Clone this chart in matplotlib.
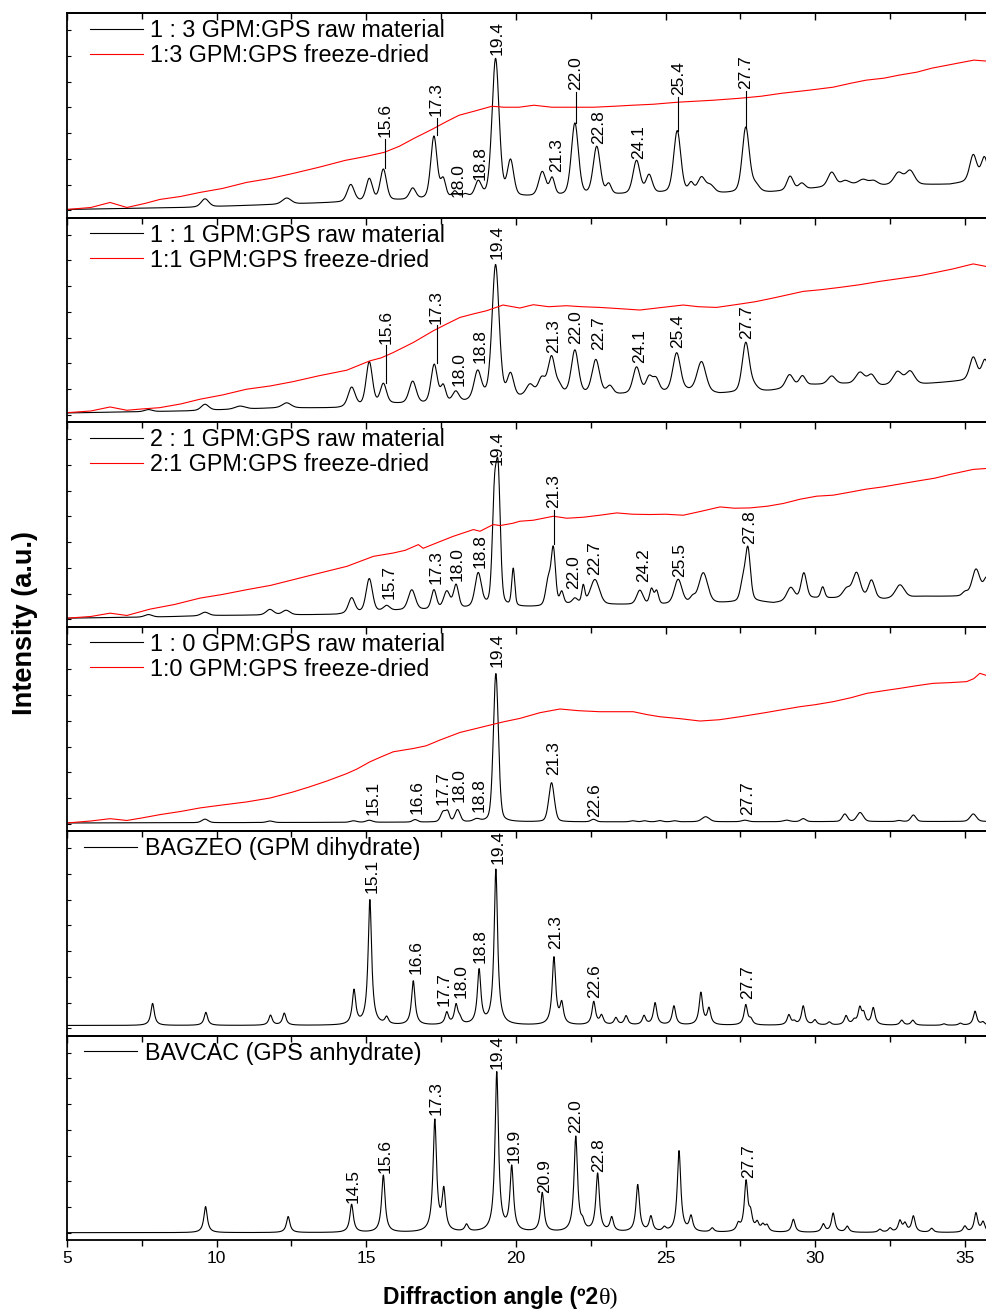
import numpy as np
import matplotlib.pyplot as plt
from matplotlib.ticker import MultipleLocator

plt.rcParams['font.family'] = 'Liberation Sans'

# ---- data (2theta in degrees, intensity in arbitrary units) ----
# peaks: (position, height above baseline, fwhm)
raw13_base = [(5, 8), (9, 10), (12, 13), (14, 15), (16, 17), (18, 19), (20, 20), (23, 22), (25, 24),
              (27, 24), (28.5, 25), (29.8, 28.5), (31.2, 33), (32.3, 32), (34.5, 33), (35, 35), (35.74, 38)]
raw13_peaks = [(9.61, 8, 0.3), (12.34, 6, 0.35), (14.48, 17, 0.28), (15.1, 22, 0.25), (15.57, 31, 0.25),
               (16.55, 11, 0.25), (17.26, 62, 0.25), (17.57, 18, 0.2), (17.96, 6, 0.2), (18.3, 3, 0.25),
               (18.74, 15, 0.25), (19.32, 138, 0.28), (19.82, 35, 0.25), (20.88, 24, 0.28), (21.21, 17, 0.2),
               (21.97, 72, 0.28), (22.7, 48, 0.28), (23.1, 10, 0.2), (24.03, 33, 0.28), (24.45, 18, 0.25),
               (25.39, 62, 0.28), (25.85, 9, 0.2), (26.2, 15, 0.3), (26.5, 7, 0.3), (27.68, 65, 0.28),
               (28.0, 7, 0.3), (29.16, 14, 0.25), (29.55, 6, 0.25), (30.55, 14, 0.3), (31.0, 4, 0.3),
               (31.6, 5, 0.35), (31.95, 4, 0.3), (32.78, 12, 0.35), (33.17, 14, 0.35), (35.28, 26, 0.28),
               (35.65, 22, 0.25)]
fd13 = [(5, 8), (5.8, 10), (6.44, 15), (7, 10), (7.6, 14), (8.1, 18), (8.8, 21), (9.44, 25), (10.2, 29),
        (11, 35), (11.8, 39), (12.56, 44), (13.4, 50), (14.3, 57), (15, 61), (15.6, 65), (16.1, 71),
        (16.6, 79), (17.2, 88), (17.7, 96), (18.1, 102), (18.6, 106), (19.2, 111), (19.6, 110), (20.1, 110),
        (20.6, 112), (21.2, 110), (21.9, 110), (22.6, 110), (23.3, 111), (23.9, 112), (24.6, 113),
        (25.4, 115), (26.0, 116), (26.6, 117), (27.5, 119), (28.2, 121), (28.9, 124), (29.8, 127),
        (30.6, 130), (31.2, 134), (31.7, 137), (32.3, 139), (32.8, 142), (33.4, 145), (33.9, 149),
        (34.6, 153), (35.3, 157), (35.74, 156)]

raw11_base = [(5, 9), (7, 10), (9, 11), (11, 13), (12, 14), (14, 14), (15.85, 18), (16.9, 18), (18.3, 20),
              (19.0, 24), (20.1, 24), (21.55, 28), (23.3, 27), (24.8, 29), (25.7, 31), (26.8, 28), (28.5, 31),
              (29.9, 37), (31.0, 38), (32.2, 36), (33.7, 38), (34.9, 41), (35.74, 44)]
raw11_peaks = [(7.72, 2, 0.3), (9.61, 6, 0.3), (10.78, 3, 0.4), (12.34, 5, 0.35), (14.51, 19, 0.28),
               (15.1, 43, 0.25), (15.57, 20, 0.25), (16.55, 22, 0.28), (17.27, 38, 0.25), (17.57, 16, 0.2),
               (17.99, 10, 0.25), (18.72, 27, 0.28), (19.32, 132, 0.28), (19.82, 22, 0.25), (20.47, 11, 0.3),
               (20.86, 16, 0.28), (21.19, 37, 0.28), (21.45, 6, 0.2), (21.97, 43, 0.28), (22.67, 34, 0.3),
               (23.14, 8, 0.25), (24.03, 26, 0.28), (24.45, 15, 0.25), (24.68, 13, 0.25), (25.37, 38, 0.3),
               (26.2, 30, 0.35), (27.68, 49, 0.28), (27.95, 5, 0.3), (29.14, 13, 0.3), (29.57, 10, 0.25),
               (30.55, 8, 0.3), (31.5, 12, 0.35), (31.88, 10, 0.3), (32.75, 13, 0.35), (33.17, 13, 0.35),
               (35.28, 22, 0.28), (35.67, 18, 0.25)]
fd11 = [(5, 9.3), (5.8, 11), (6.44, 15), (7.0, 11.7), (7.5, 13), (8.1, 14.3), (8.8, 18), (9.44, 22.7),
        (10.2, 27), (11.0, 32.7), (11.8, 36), (12.56, 40.3), (13.4, 46), (14.35, 51.7), (15.12, 61),
        (15.5, 64), (15.9, 69.3), (16.57, 79.3), (17.24, 91), (17.7, 98), (18.13, 104.3), (18.6, 108),
        (19.02, 111), (19.57, 116.7), (20.13, 113.7), (20.58, 117), (21.1, 115), (21.69, 116), (22.2, 115),
        (22.8, 114.3), (23.5, 113), (24.14, 111.7), (24.8, 114), (25.59, 116.7), (26.1, 115), (26.7, 114.3),
        (27.1, 116), (27.49, 117.7), (28.0, 120), (28.6, 123.7), (29.1, 127), (29.6, 130.3), (30.2, 132),
        (30.83, 134.3), (31.5, 137), (32.16, 140.3), (32.8, 143), (33.5, 146), (34.0, 149), (34.6, 152.7),
        (35.28, 157.7), (35.74, 155)]

raw21_base = [(5, 8.3), (8, 9.5), (10, 11), (13, 11.7), (14, 12), (14.8, 14), (16.1, 16), (17.0, 16.5),
              (18.3, 18), (19.0, 20), (20.1, 19.3), (21.0, 19.5), (21.7, 22), (22.4, 23), (23.0, 21.7),
              (24.9, 21.7), (25.8, 23), (26.8, 23.3), (28.0, 25), (28.6, 23.3), (29.9, 28), (31.6, 28),
              (32.3, 27), (33.5, 30), (35, 30), (35.74, 36)]
raw21_peaks = [(7.72, 2.5, 0.3), (9.61, 3.5, 0.3), (11.78, 5.5, 0.3), (12.32, 4.5, 0.3), (14.51, 15, 0.25),
               (15.1, 33, 0.25), (15.68, 5, 0.25), (16.52, 20, 0.28), (17.26, 19, 0.2), (17.69, 17, 0.25),
               (18.0, 23, 0.2), (18.74, 33, 0.25), (19.28, 100, 0.17), (19.41, 120, 0.17), (19.91, 37, 0.12),
               (21.08, 25, 0.2), (21.25, 55, 0.17), (21.53, 12, 0.15), (21.97, 5, 0.2), (22.25, 17, 0.12),
               (22.64, 24, 0.35), (24.14, 14, 0.25), (24.53, 15, 0.15), (24.7, 13, 0.15), (25.42, 24, 0.3),
               (25.9, 5, 0.2), (26.26, 30, 0.35), (27.58, 18, 0.2), (27.75, 52, 0.2), (29.18, 13, 0.3),
               (29.62, 26, 0.22), (30.25, 11, 0.15), (31.05, 9, 0.3), (31.38, 25, 0.3), (31.88, 18, 0.25),
               (32.83, 13, 0.35), (35.0, 4, 0.2), (35.37, 24, 0.3), (35.72, 12, 0.2)]
fd21 = [(5, 8.3), (5.8, 10), (6.44, 13.3), (7.0, 11), (7.77, 17.3), (8.6, 22), (9.44, 28.3), (10.2, 32),
        (11.0, 36.7), (11.8, 41), (12.56, 46.7), (13.4, 53), (14.35, 60), (15.24, 70), (15.9, 73.3),
        (16.3, 76), (16.74, 81.7), (16.9, 78), (17.4, 84), (17.91, 90), (18.58, 96.7), (18.8, 95),
        (19.24, 101.7), (19.47, 100.7), (19.9, 103), (20.13, 105), (20.58, 106), (21.25, 110), (21.7, 108),
        (22.25, 109), (22.8, 111), (23.37, 113.3), (23.9, 112), (24.48, 111.7), (25.0, 112), (25.59, 111),
        (26.2, 115), (26.82, 119.3), (27.3, 118), (27.82, 118.3), (28.4, 120), (28.93, 122.7), (29.5, 127),
        (30.05, 130), (30.6, 131), (31.16, 134), (31.7, 137), (32.27, 139.3), (32.8, 142), (33.39, 145),
        (34.0, 148), (34.5, 151.7), (35.28, 156.7), (35.74, 157.7)]

raw10_base = [(5, 8), (20, 9), (35.74, 9.5)]
raw10_peaks = [(9.61, 3.5, 0.25), (11.78, 1.5, 0.25), (14.57, 1.5, 0.25), (15.1, 2, 0.25), (16.63, 2.5, 0.2),
               (17.57, 10, 0.2), (17.72, 9, 0.15), (18.05, 12, 0.2), (18.69, 2.5, 0.25), (19.33, 148, 0.2),
               (21.19, 39, 0.22), (22.59, 2.5, 0.2), (23.9, 1, 0.2), (24.3, 1, 0.2), (24.8, 1.2, 0.2),
               (25.3, 1, 0.2), (26.34, 5, 0.3), (27.65, 1.5, 0.25), (29.04, 1.5, 0.25), (29.6, 3, 0.2),
               (30.99, 7.5, 0.2), (31.5, 9, 0.25), (32.8, 1, 0.2), (33.28, 6.5, 0.2), (35.28, 7.5, 0.25)]
fd10 = [(5, 8), (5.8, 10), (6.44, 12.3), (7.0, 10.5), (7.5, 13), (8.1, 16.3), (8.8, 19.5), (9.44, 23),
        (10.2, 26), (11.0, 29), (11.8, 33), (12.56, 39), (13.1, 44), (13.67, 49.7), (14.35, 57.3),
        (14.7, 62), (15.12, 69), (15.5, 74), (15.9, 79), (16.3, 81), (16.57, 82.3), (17.0, 85),
        (17.46, 90.7), (18.13, 98.3), (18.5, 101), (18.91, 104), (19.36, 107.3), (19.6, 109), (20.13, 112.3),
        (20.8, 118), (21.47, 121.7), (22.1, 120), (22.8, 119), (23.4, 119), (23.92, 119), (24.4, 116),
        (24.81, 114), (25.5, 112), (26.15, 109.7), (26.8, 111), (27.49, 114), (28.38, 118.3), (28.9, 121),
        (29.49, 124), (30.0, 126), (30.6, 129), (31.2, 133), (31.72, 137.3), (32.3, 140), (32.83, 142.3),
        (33.4, 145), (33.94, 147.3), (34.5, 148), (35.06, 149), (35.3, 152), (35.5, 157.3), (35.74, 155)]

bagzeo_base = [(5, 10), (35.74, 10)]
bagzeo_peaks = [(7.86, 22), (9.64, 13), (11.8, 10), (12.26, 12), (14.59, 34), (15.12, 125), (15.68, 7),
                (16.57, 44), (17.69, 12), (18.0, 19), (18.12, 5), (18.77, 54), (19.33, 155), (21.27, 67),
                (21.53, 20), (22.6, 23), (22.86, 9), (23.34, 7), (23.68, 9), (24.28, 9), (24.65, 22),
                (25.28, 19), (26.18, 32), (26.45, 16), (27.68, 20), (27.85, 5), (29.12, 10), (29.3, 3),
                (29.6, 19), (29.99, 5), (30.47, 3), (31.03, 9), (31.3, 4), (31.49, 16), (31.62, 10),
                (31.94, 17), (32.89, 5), (33.26, 5), (34.3, 1.5), (34.85, 2), (35.34, 14), (35.6, 3)]

bavcac_base = [(5, 7.3), (35.74, 7.3)]
bavcac_peaks = [(9.63, 26), (12.39, 16), (14.51, 28), (15.57, 57), (17.29, 111), (17.59, 40), (18.35, 7),
                (19.36, 159), (19.86, 64), (20.88, 39), (22.0, 95), (22.23, 7), (22.73, 58), (23.2, 14),
                (24.07, 47), (24.51, 15), (24.96, 4), (25.45, 81), (25.85, 15), (26.56, 4), (27.43, 7),
                (27.69, 49), (27.84, 15), (28.06, 8), (28.25, 6), (28.39, 6), (29.27, 13), (30.27, 8),
                (30.6, 19), (31.07, 6), (32.16, 3), (32.5, 4), (32.83, 11), (33.0, 8), (33.28, 16),
                (33.89, 4), (35.0, 6), (35.37, 19), (35.61, 10)]

# peak labels: (text, x, bottom of text, start of leader line or None)
labels13 = [("15.6", 15.62, 80, 49), ("17.3", 17.35, 101, 82), ("18.0", 18.07, 20, None),
            ("18.8", 18.82, 37, None), ("19.4", 19.36, 162, None), ("21.3", 21.36, 45, None),
            ("22.0", 22.0, 127, 94), ("22.8", 22.77, 73, None), ("24.1", 24.09, 58, None),
            ("25.4", 25.42, 122, 86), ("27.7", 27.68, 128, 89)]
labels11 = [("15.6", 15.66, 78, 39), ("17.3", 17.35, 98, 59), ("18.0", 18.1, 36, None),
            ("18.8", 18.82, 59, None), ("19.4", 19.36, 163, None), ("21.3", 21.27, 69, None),
            ("22.0", 22.0, 78, None), ("22.7", 22.75, 72, None), ("24.1", 24.12, 59, None),
            ("25.4", 25.39, 74, None), ("27.7", 27.71, 83, None)]
labels21 = [("15.7", 15.76, 27, None), ("17.3", 17.32, 42, None), ("18.0", 18.05, 45, None),
            ("18.8", 18.82, 58, None), ("19.4", 19.38, 161, None), ("21.3", 21.27, 118, 82),
            ("22.0", 21.94, 37, None), ("22.7", 22.64, 51, None), ("24.2", 24.28, 44, None),
            ("25.5", 25.48, 49, None), ("27.8", 27.8, 82, None)]
labels10 = [("15.1", 15.23, 16, None), ("16.6", 16.7, 17, None), ("17.7", 17.57, 26, None),
            ("18.0", 18.1, 29, None), ("18.8", 18.76, 19, None), ("19.4", 19.38, 164, None),
            ("21.3", 21.27, 56, None), ("22.6", 22.64, 14, None), ("27.7", 27.73, 16, None)]
labels_bagzeo = [("15.1", 15.21, 142, None), ("16.6", 16.66, 61, None), ("17.7", 17.6, 29, None),
                 ("18.0", 18.16, 37, None), ("18.8", 18.82, 72, None), ("19.4", 19.41, 171, None),
                 ("21.3", 21.33, 86, None), ("22.6", 22.64, 37, None), ("27.7", 27.73, 36, None)]
labels_bavcac = [("14.5", 14.55, 37, None), ("15.6", 15.62, 67, None), ("17.3", 17.35, 125, None),
                 ("19.4", 19.38, 171, None), ("19.9", 19.95, 77, None), ("20.9", 20.97, 47, None),
                 ("22.0", 22.0, 107, None), ("22.8", 22.77, 68, None), ("27.7", 27.76, 62, None)]

panels = [
    ("1 : 3 GPM:GPS raw material", raw13_base, raw13_peaks, "1:3 GPM:GPS freeze-dried", fd13, labels13),
    ("1 : 1 GPM:GPS raw material", raw11_base, raw11_peaks, "1:1 GPM:GPS freeze-dried", fd11, labels11),
    ("2 : 1 GPM:GPS raw material", raw21_base, raw21_peaks, "2:1 GPM:GPS freeze-dried", fd21, labels21),
    ("1 : 0 GPM:GPS raw material", raw10_base, raw10_peaks, "1:0 GPM:GPS freeze-dried", fd10, labels10),
    ("BAGZEO (GPM dihydrate)", bagzeo_base, bagzeo_peaks, None, None, labels_bagzeo),
    ("BAVCAC (GPS anhydrate)", bavcac_base, bavcac_peaks, None, None, labels_bavcac),
]


def pattern(x, base, peaks, eta, fwhm=0.14):
    bx, by = zip(*base)
    y = np.interp(x, bx, by)
    for p in peaks:
        pos, amp = p[0], p[1]
        w = p[2] if len(p) > 2 else fwhm
        d = (x - pos) / w
        y = y + amp * (eta / (1 + 4 * d ** 2) + (1 - eta) * np.exp(-4 * np.log(2) * d ** 2))
    return y


x = np.linspace(5, 35.74, 4000)

fig = plt.figure(figsize=(9.87, 13.09), dpi=100)
axes = fig.subplots(6, 1, sharex=True, gridspec_kw=dict(hspace=0))
fig.subplots_adjust(left=67 / 987, right=1.0, top=1 - 13 / 1309, bottom=1 - 1240 / 1309)

for i, (ax, (lab_raw, base, peaks, lab_fd, fd, labels)) in enumerate(zip(axes, panels)):
    ax.set_facecolor('none')
    simulated = fd is None
    y = pattern(x, base, peaks, eta=1.0 if simulated else 0.3)
    ax.plot(x, y, color='black', lw=0.8, label=lab_raw)
    if fd is not None:
        fx, fy = zip(*fd)
        ax.plot(fx, fy, color='red', lw=0.8, label=lab_fd)

    for txt, lx, ly, lead in labels:
        ax.text(lx, ly, txt, rotation=90, ha='center', va='bottom', fontsize=12.5)
        if lead is not None:
            ax.plot([lx, lx], [lead, ly - 1.5], color='black', lw=0.8)

    ax.legend(loc='upper left', bbox_to_anchor=(0.019 if simulated else 0.025, 0.97), frameon=False,
              fontsize=16.8, handlelength=2.25, handletextpad=0.33, labelspacing=0.08,
              borderpad=0, borderaxespad=0)

    ax.set_xlim(5, 35.74)
    ax.set_ylim(0, 204)
    ax.set_yticks(np.arange(7, 200, 25.7))
    ax.tick_params(axis='y', direction='in', length=3, width=0.8, labelleft=False)
    ax.xaxis.set_major_locator(MultipleLocator(5))
    ax.xaxis.set_minor_locator(MultipleLocator(2.5))
    ax.tick_params(axis='x', which='both', direction='out', bottom=True, top=False,
                   labelbottom=(i == 5), width=1.0, labelsize=12.5, pad=3)
    ax.tick_params(axis='x', which='major', length=5)
    ax.tick_params(axis='x', which='minor', length=4)
    for s in ['left', 'top', 'bottom']:
        ax.spines[s].set_linewidth(1.3)
    ax.spines['right'].set_visible(False)

top = axes[0].secondary_xaxis('top')
top.xaxis.set_major_locator(MultipleLocator(5))
top.xaxis.set_minor_locator(MultipleLocator(2.5))
top.tick_params(axis='x', which='both', direction='in', labeltop=False, width=1.0)
top.tick_params(axis='x', which='major', length=5)
top.tick_params(axis='x', which='minor', length=4)
top.spines['top'].set_linewidth(1.3)

fig.text(0.025, 1 - 623 / 1309, 'Intensity (a.u.)', rotation=90, ha='center', va='center',
         fontsize=19.5, fontweight='bold')
fig.text(598 / 987, 1 - 1304 / 1309, 'Diffraction angle (º2', ha='right', va='baseline',
         fontsize=16.5, fontweight='bold')
fig.text(599 / 987, 1 - 1304 / 1309, 'θ)', ha='left', va='baseline', fontsize=17.5,
         family='Liberation Serif')

fig.savefig('out.png', dpi=100)
